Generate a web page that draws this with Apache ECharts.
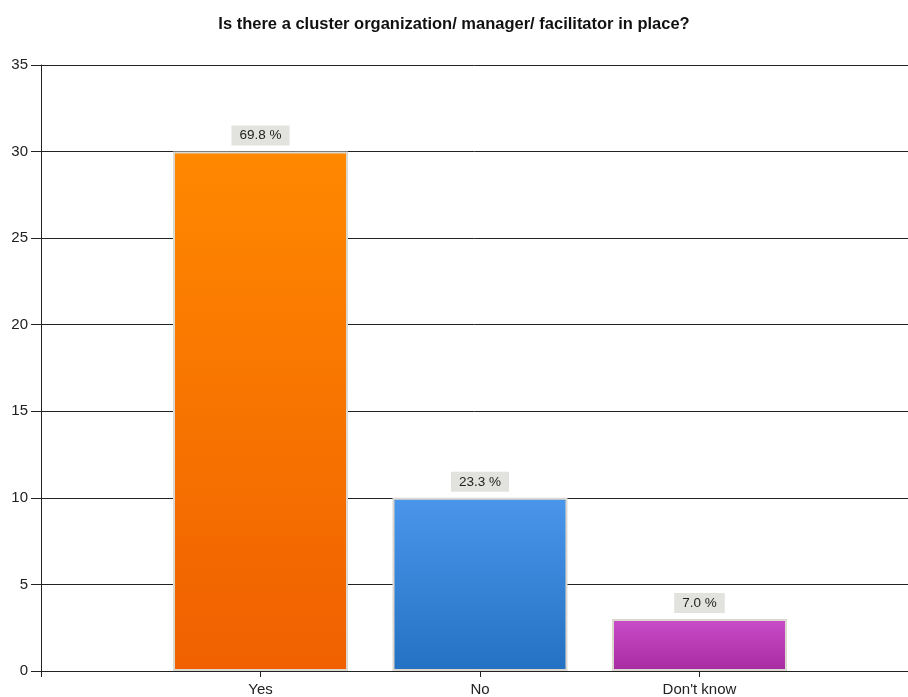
<!DOCTYPE html>
<html>
<head>
<meta charset="utf-8">
<script src="https://cdn.jsdelivr.net/npm/echarts@6/dist/echarts.min.js"></script>
<style>html,body{margin:0;padding:0;background:#fff;overflow:hidden}#c{width:908px;height:697px}</style>
</head>
<body>
<div id="c"></div>
<script>
var categories = ['', 'Yes', 'No', "Don't know"];
var counts = [30, 10, 3];
var percentLabels = ['69.8 %', '23.3 %', '7.0 %'];
var yTicks = [0, 5, 10, 15, 20, 25, 30, 35];
var titleText = 'Is there a cluster organization/ manager/ facilitator in place?';

var gradients = [
  ['#FF8800', '#F06000'],
  ['#4B96EB', '#2470C2'],
  ['#C94CC9', '#A72BA0']
];

var chart = echarts.init(document.getElementById('c'), null, {renderer: 'canvas'});
var data = counts.map(function (v, i) {
  return {
    value: [i + 1, v],
    itemStyle: {
      color: new echarts.graphic.LinearGradient(0, 0, 0, 1, [
        {offset: 0, color: gradients[i][0]},
        {offset: 1, color: gradients[i][1]}
      ])
    }
  };
});
chart.setOption({
  animation: false,
  title: {
    text: titleText,
    left: 'center',
    top: 11,
    textStyle: {fontFamily: 'Liberation Sans, Arial', fontSize: 16.5, fontWeight: 'bold', color: '#111'}
  },
  grid: {left: 41, top: 65, bottom: 26, right: 0, containLabel: false},
  xAxis: {
    type: 'value',
    min: 0,
    max: 3.95,
    interval: 1,
    axisLine: {lineStyle: {color: '#222', width: 1}},
    axisTick: {show: true, length: 6, lineStyle: {color: '#222'}},
    axisLabel: {fontFamily: 'Liberation Sans, Arial', fontSize: 15, color: '#222', margin: 11,
      showMaxLabel: false,
      formatter: function (v) { return categories[v] || ''; }},
    splitLine: {show: false}
  },
  yAxis: {
    type: 'value',
    min: 0,
    max: 35,
    interval: 5,
    axisLine: {show: true, lineStyle: {color: '#222', width: 1}},
    axisTick: {show: true, length: 10, lineStyle: {color: '#222'}},
    axisLabel: {fontFamily: 'Liberation Sans, Arial', fontSize: 15, color: '#222', margin: 13,
      formatter: function (v) { return yTicks.indexOf(v) >= 0 ? String(v) : ''; }},
    splitLine: {show: true, lineStyle: {color: '#222', width: 1}}
  },
  series: [{
    type: 'bar',
    data: data,
    barWidth: 175,
    itemStyle: {borderColor: '#DCD8D0', borderWidth: 2},
    label: {
      show: true,
      position: 'top',
      distance: 6,
      formatter: function (p) { return percentLabels[p.dataIndex]; },
      fontFamily: 'Liberation Sans, Arial',
      fontSize: 13.5,
      color: '#222',
      backgroundColor: '#E2E2DE',
      padding: [3, 8, 3, 8]
    }
  }]
});
</script>
</body>
</html>
